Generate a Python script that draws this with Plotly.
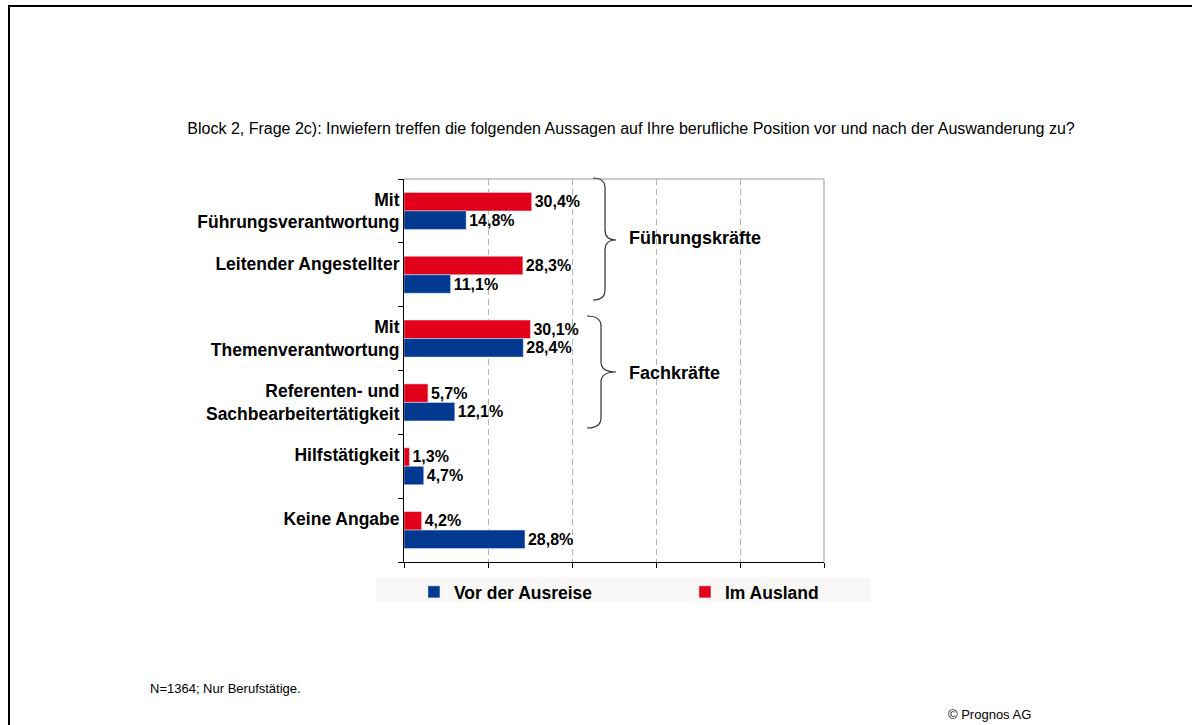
import plotly.graph_objects as go

# Daten
kategorien = [
    "Mit<br>Führungsverantwortung",
    "Leitender Angestellter",
    "Mit<br>Themenverantwortung",
    "Referenten- und<br>Sachbearbeitertätigkeit",
    "Hilfstätigkeit",
    "Keine Angabe",
]
vor_der_ausreise = [14.8, 11.1, 28.4, 12.1, 4.7, 28.8]
im_ausland = [30.4, 28.3, 30.1, 5.7, 1.3, 4.2]

gruppen = ["Führungskräfte", "Fachkräfte"]

TITEL = ("Block 2, Frage 2c): Inwiefern treffen die folgenden Aussagen auf Ihre "
         "berufliche Position vor und nach der Auswanderung zu?")
FUSSNOTE = "N=1364; Nur Berufstätige."
COPYRIGHT = "© Prognos AG"

BLAU = '#00398F'
ROT = '#E3001B'
FONT = "Liberation Sans, Arial, sans-serif"

W, H = 1192, 725
# Plotbereich in Pixeln
L, R, T, B = 404, 824, 179, 562


def px_x(px):
    return (px - L) / (R - L)


def px_y(py):
    return (B - py) / (B - T)


# einzeilige Labels etwas nach oben schieben (wie im Original)
ticktext = [k if "<br>" in k else k + "<br>&nbsp;" for k in kategorien]

wertfont = dict(family=FONT, size=16, color='black', weight='bold')

fig = go.Figure()
fig.add_trace(go.Bar(
    y=kategorien, x=im_ausland, orientation='h', name="Im Ausland",
    marker_color=ROT, legendrank=2,
    texttemplate="%{x:.1f}%", textposition='outside', cliponaxis=False,
    constraintext='none', textfont=wertfont,
))
fig.add_trace(go.Bar(
    y=kategorien, x=vor_der_ausreise, orientation='h', name="Vor der Ausreise",
    marker_color=BLAU, legendrank=1,
    texttemplate="%{x:.1f}%", textposition='outside', cliponaxis=False,
    constraintext='none', textfont=wertfont,
))

fig.update_layout(
    width=W, height=H,
    margin=dict(l=L, r=W - R, t=T, b=H - B, autoexpand=False),
    paper_bgcolor='white', plot_bgcolor='white',
    separators=',.',
    barmode='group', bargap=0.42, bargroupgap=0,
    font=dict(family=FONT, color='black'),
    title=dict(text=TITEL, x=631 / W, xanchor='center', y=1 - 128 / H,
               yanchor='middle', font=dict(size=16, color='black')),
    xaxis=dict(
        range=[0, 100], dtick=20, showticklabels=False,
        ticks='outside', ticklen=5, tickcolor='black',
        showline=True, linecolor='black', linewidth=1,
        showgrid=True, gridcolor='#b4b4b4', griddash='6px,4px', gridwidth=1,
        zeroline=False, fixedrange=True,
    ),
    yaxis=dict(
        autorange='reversed',
        tickmode='array', tickvals=kategorien, ticktext=ticktext,
        tickson='boundaries', ticks='outside', ticklen=5, tickcolor='black',
        showline=True, linecolor='black', linewidth=1,
        showgrid=False, zeroline=False,
        tickfont=dict(family=FONT, size=17.5, color='black', weight='bold'),
    ),
    showlegend=True,
    legend=dict(
        orientation='h', x=-0.0001, xanchor='left', y=px_y(564), yanchor='top',
        bgcolor='rgba(0,0,0,0)', borderwidth=10, bordercolor='rgba(0,0,0,0)',
        entrywidth=226, entrywidthmode='pixels',
        font=dict(family=FONT, size=17.5, color='black', weight='bold'),
    ),
)

shapes = []
# grauer Rahmen oben/rechts am Plot
shapes.append(dict(type='line', xref='paper', yref='paper', x0=0, x1=1, y0=1, y1=1,
                   line=dict(color='#999999', width=1)))
shapes.append(dict(type='line', xref='paper', yref='paper', x0=1, x1=1, y0=0, y1=1,
                   line=dict(color='#999999', width=1)))
# Legendenhintergrund
shapes.append(dict(type='rect', xref='paper', yref='paper', layer='below',
                   x0=px_x(376), x1=px_x(870), y0=px_y(602), y1=px_y(578),
                   fillcolor='#F8F7F5', line=dict(width=0)))
# äußerer Rahmen (links + oben)
shapes.append(dict(type='path', xref='paper', yref='paper',
                   path=f"M{px_x(9)},{px_y(730)} L{px_x(9)},{px_y(6)} L{px_x(1200)},{px_y(6)}",
                   line=dict(color='black', width=2)))


def klammer(y_top, y_bot, y_tip, x_end, x_spine, x_tip, r=10):
    p = (f"M{px_x(x_end)},{px_y(y_top)} "
         f"Q{px_x(x_spine)},{px_y(y_top)} {px_x(x_spine)},{px_y(y_top + r)} "
         f"L{px_x(x_spine)},{px_y(y_tip - r)} "
         f"Q{px_x(x_spine)},{px_y(y_tip)} {px_x(x_tip)},{px_y(y_tip)} "
         f"Q{px_x(x_spine)},{px_y(y_tip)} {px_x(x_spine)},{px_y(y_tip + r)} "
         f"L{px_x(x_spine)},{px_y(y_bot - r)} "
         f"Q{px_x(x_spine)},{px_y(y_bot)} {px_x(x_end)},{px_y(y_bot)}")
    return dict(type='path', xref='paper', yref='paper', path=p,
                line=dict(color='#333333', width=1.2))


shapes.append(klammer(178, 300, 240, 593, 605, 616))
shapes.append(klammer(316, 428, 372, 587, 601, 616))
fig.update_layout(shapes=shapes)

# Gruppenbeschriftungen
for text, ypx in zip(gruppen, [238, 373]):
    fig.add_annotation(text=text, xref='paper', yref='paper', x=px_x(627), y=px_y(ypx),
                       xanchor='left', yanchor='middle', showarrow=False,
                       font=dict(family=FONT, size=18, color='black', weight='bold'))

fig.add_annotation(text=FUSSNOTE, xref='paper', yref='paper', x=px_x(148), y=px_y(688),
                   xanchor='left', yanchor='middle', showarrow=False,
                   font=dict(family=FONT, size=13, color='black'))
fig.add_annotation(text=COPYRIGHT, xref='paper', yref='paper', x=px_x(946), y=px_y(714),
                   xanchor='left', yanchor='middle', showarrow=False,
                   font=dict(family=FONT, size=13, color='black'))

# Seitenrand des Browsers entfernen, damit die Grafik bei (0,0) beginnt
fig.write_html("out.html", config={'displayModeBar': False},
               post_script="document.body.style.margin='0';")
